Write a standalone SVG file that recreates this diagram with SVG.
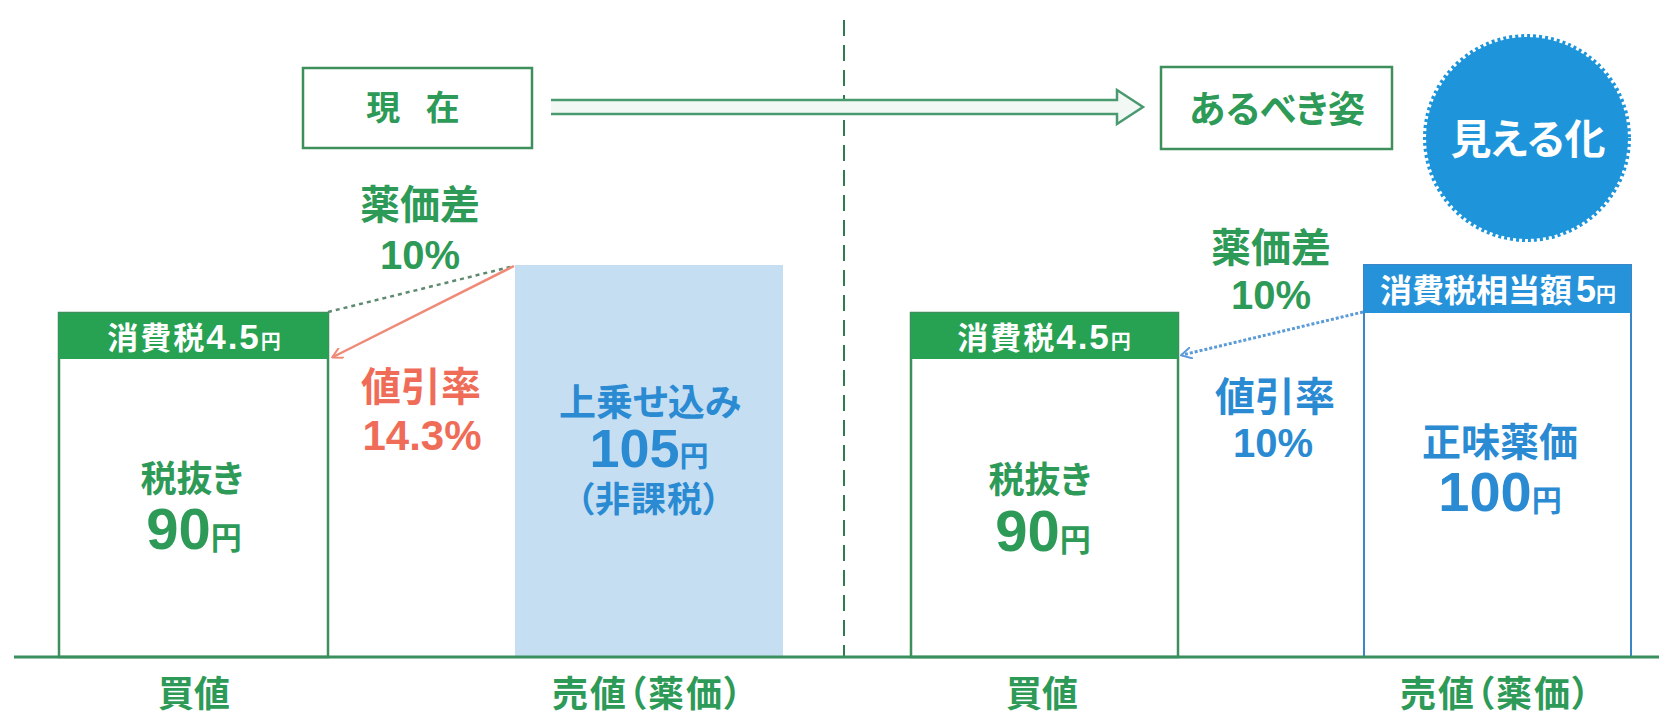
<svg xmlns="http://www.w3.org/2000/svg" width="1659" height="717" viewBox="0 0 1659 717">
<style>
text{font-family:"Liberation Sans","Noto Sans CJK JP",sans-serif;font-weight:bold;text-anchor:middle;font-feature-settings:"palt"}
.g{fill:#2e9a58}
.b{fill:#2a8bd2}
.r{fill:#ef6d58}
.w{fill:#ffffff}
.box{fill:#ffffff;stroke:#3d8f5c;stroke-width:2.5}
.gbar{fill:#27a152}
.bbar{fill:#2592d9}
.bbox{fill:#ffffff;stroke:#3a86c6;stroke-width:2}
</style>
<defs>
<marker id="ahRed" markerWidth="12" markerHeight="12" refX="10" refY="6" orient="auto" markerUnits="userSpaceOnUse">
<path d="M0,0 L11,6 L0,12" fill="none" stroke="#f08a78" stroke-width="2"/>
</marker>
<marker id="ahBlue" markerWidth="12" markerHeight="12" refX="10" refY="6" orient="auto" markerUnits="userSpaceOnUse">
<path d="M0,0 L11,6 L0,12" fill="none" stroke="#5b9bd8" stroke-width="2"/>
</marker>
</defs>
<rect width="1659" height="717" fill="#ffffff"/>

<g id="divider">
<line x1="844" y1="20" x2="844" y2="657" stroke="#2f7d4f" stroke-width="2" stroke-dasharray="16 9"/>
</g>

<g id="node-genzai">
<rect x="303" y="68" width="229" height="80" fill="none" stroke="#3d8f5c" stroke-width="2.5"/>
<text x="417" y="120" class="g" font-size="34" letter-spacing="8">現 在</text>
</g>

<g id="node-arubeki">
<rect x="1161" y="67" width="231" height="82" fill="none" stroke="#3d8f5c" stroke-width="2.5"/>
<text x="1277" y="123" class="g" font-size="37">あるべき姿</text>
</g>

<g id="node-mieruka">
<circle cx="1527" cy="138" r="101" fill="#1e95db"/>
<circle cx="1527" cy="138" r="102" fill="none" stroke="#1e95db" stroke-width="4" stroke-dasharray="3 3"/>
<text x="1528" y="154" class="w" font-size="41">見える化</text>
</g>

<g id="node-left-kaine">
<rect x="59" y="313" width="269" height="344" class="box"/>
<rect x="59" y="313" width="269" height="46" class="gbar"/>
<text x="195" y="349" class="w" font-size="31" letter-spacing="2">消費税<tspan font-size="35">4.5</tspan><tspan font-size="20">円</tspan></text>
<text x="192" y="492" class="g" font-size="36">税抜き</text>
<text x="194" y="549" class="g" font-size="58">90<tspan font-size="31">円</tspan></text>
</g>

<g id="node-left-urine">
<rect x="515" y="265" width="268" height="392" fill="#c6def2"/>
<text x="650" y="416" class="b" font-size="37">上乗せ込み</text>
<text x="649" y="467" class="b" font-size="54">105<tspan font-size="29">円</tspan></text>
<text x="649" y="512" class="b" font-size="35" letter-spacing="1">（非課税）</text>
</g>

<g id="label-left-yakkasa">
<text x="420" y="219" class="g" font-size="40">薬価差</text>
<text x="420" y="269" class="g" font-size="40">10%</text>
</g>

<g id="label-left-nebiki">
<text x="421" y="401" class="r" font-size="40">値引率</text>
<text x="422" y="450" class="r" font-size="42">14.3%</text>
</g>

<g id="node-right-kaine">
<rect x="911" y="313" width="267" height="344" class="box"/>
<rect x="911" y="313" width="267" height="46" class="gbar"/>
<text x="1045" y="349" class="w" font-size="31" letter-spacing="2">消費税<tspan font-size="35">4.5</tspan><tspan font-size="20">円</tspan></text>
<text x="1040" y="493" class="g" font-size="36">税抜き</text>
<text x="1043" y="551" class="g" font-size="58">90<tspan font-size="31">円</tspan></text>
</g>

<g id="node-right-urine">
<rect x="1364" y="265" width="267" height="392" class="bbox"/>
<rect x="1364" y="265" width="267" height="48" class="bbar"/>
<text x="1498" y="302" class="w" font-size="32">消費税相当額<tspan font-size="36" dx="4">5</tspan><tspan font-size="20">円</tspan></text>
<text x="1500" y="456" class="b" font-size="39">正味薬価</text>
<text x="1500" y="511" class="b" font-size="56">100<tspan font-size="30">円</tspan></text>
</g>

<g id="label-right-yakkasa">
<text x="1271" y="262" class="g" font-size="40">薬価差</text>
<text x="1271" y="309" class="g" font-size="40">10%</text>
</g>

<g id="label-right-nebiki">
<text x="1275" y="411" class="b" font-size="40">値引率</text>
<text x="1273" y="457" class="b" font-size="40">10%</text>
</g>

<g id="connectors">
<path d="M551,100 H1117 V90 L1143,107 L1117,124 V114 H551" fill="#f2f8f4" stroke="#4a9a70" stroke-width="2.5" stroke-linejoin="miter"/>
<line x1="328" y1="312" x2="514" y2="266" stroke="#5f8a72" stroke-width="2.5" stroke-dasharray="4 4"/>
<line x1="514" y1="266" x2="333" y2="357" stroke="#f08a78" stroke-width="2.5" marker-end="url(#ahRed)"/>
<line x1="1363" y1="312" x2="1182" y2="355" stroke="#5b9bd8" stroke-width="3" stroke-dasharray="3 2" marker-end="url(#ahBlue)"/>
</g>

<g id="axis">
<line x1="14" y1="657" x2="1659" y2="657" stroke="#3a8f5e" stroke-width="3"/>
<text x="194" y="707" class="g" font-size="36">買値</text>
<text x="648" y="707" class="g" font-size="36" letter-spacing="2">売値（薬価）</text>
<text x="1042" y="707" class="g" font-size="36">買値</text>
<text x="1496" y="707" class="g" font-size="36" letter-spacing="2">売値（薬価）</text>
</g>
</svg>
